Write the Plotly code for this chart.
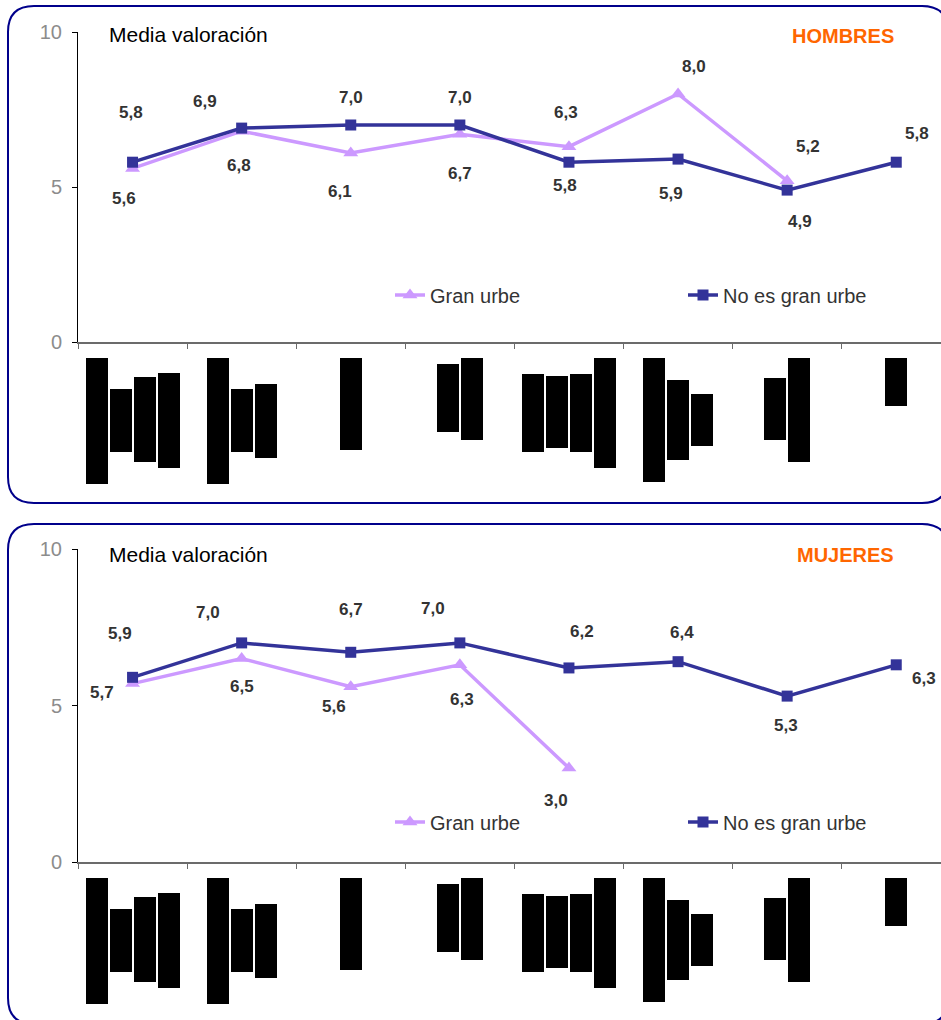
import plotly.graph_objects as go

# ---------------- data ----------------
categories = [0, 1, 2, 3, 4, 5, 6, 7]  # category labels are redacted in the source

hombres_gran_urbe = [5.6, 6.8, 6.1, 6.7, 6.3, 8.0, 5.2, None]
hombres_no_gran_urbe = [5.8, 6.9, 7.0, 7.0, 5.8, 5.9, 4.9, 5.8]
mujeres_gran_urbe = [5.7, 6.5, 5.6, 6.3, 3.0, None, None, None]
mujeres_no_gran_urbe = [5.9, 7.0, 6.7, 7.0, 6.2, 6.4, 5.3, 6.3]

series_names = ["Gran urbe", "No es gran urbe"]
y_ticks = [0, 5, 10]
panel_titles = ["HOMBRES", "MUJERES"]
axis_title = "Media valoración"

# redacted category labels (rotated text blocked out): start / end in px below axis
label_block_top = [[16, 47, 35, 31], [16, 47, 42], [16], [22, 16],
                   [32, 34, 32, 16], [16, 38, 52], [36, 16], [16]]
label_block_bottom = [[142, 110, 120, 126], [142, 110, 116], [108], [90, 98],
                      [110, 106, 110, 126], [140, 118, 104], [98, 120], [64]]

# label offsets (px) for value labels: (dx, dy) with dy positive = up
h_gu_shift = [(-9, -30), (-3, -34), (-11, -39), (0, -39), (-3, 34), (16, 28), (21, 34), None]
h_ngu_shift = [(-2, 50), (-37, 27), (0, 28), (0, 28), (-4, -23), (-7, -34), (13, -31), (21, 29)]
m_gu_shift = [(-31, -9), (0, -28), (-17, -20), (2, -35), (-13, -32), None, None, None]
m_ngu_shift = [(-13, 44), (-34, 30), (0, 43), (-27, 34), (13, 36), (4, 29), (-1, -29), (28, -14)]

# ---------------- styles ----------------
W, H = 941, 1020
PURPLE = "#CC99FF"
BLUE = "#333399"
ORANGE = "#FF6600"
NAVY = "#00008B"
FONT = "Liberation Sans, Arial, sans-serif"
LABEL_COLOR = "#333333"


def px_x(p):
    return p / W


def px_y(p):
    return 1 - p / H


X_DOMAIN = [px_x(78), 1.0]
X_RANGE = [-0.5, -0.5 + (W - 78) / 109.1]
CAT_PX = 109.1

fig = go.Figure()

panels = [
    dict(gu=hombres_gran_urbe, ngu=hombres_no_gran_urbe, gu_s=h_gu_shift, ngu_s=h_ngu_shift,
         xa="x", ya="y", blk_ya="y3", legend="legend", axis_px=342, top_px=32, blk_bottom_px=502,
         border=(8, 6, 948, 503), title_y=35, legend_y=295, name=panel_titles[0]),
    dict(gu=mujeres_gran_urbe, ngu=mujeres_no_gran_urbe, gu_s=m_gu_shift, ngu_s=m_ngu_shift,
         xa="x2", ya="y2", blk_ya="y4", legend="legend2", axis_px=862, top_px=549, blk_bottom_px=1020,
         border=(8, 524, 948, 1024), title_y=554, legend_y=822, name=panel_titles[1]),
]

annotations = []
shapes = []
layout_axes = {}

for k, p in enumerate(panels):
    xa, ya = p["xa"], p["ya"]
    fig.add_trace(go.Scatter(
        x=categories, y=p["gu"], name=series_names[0], mode="lines+markers",
        line=dict(color=PURPLE, width=3.5), connectgaps=False,
        marker=dict(symbol="triangle-up", size=13, color=PURPLE),
        xaxis=xa, yaxis=ya, legend=p["legend"], cliponaxis=False,
    ))
    fig.add_trace(go.Scatter(
        x=categories, y=p["ngu"], name=series_names[1], mode="lines+markers",
        line=dict(color=BLUE, width=3.5),
        marker=dict(symbol="square", size=11, color=BLUE),
        xaxis=xa, yaxis=ya, legend=p["legend"], cliponaxis=False,
    ))

    # value labels
    for vals, shifts in ((p["gu"], p["gu_s"]), (p["ngu"], p["ngu_s"])):
        for c, v, s in zip(categories, vals, shifts):
            if v is None:
                continue
            annotations.append(dict(
                x=c, y=v, xref=xa, yref=ya, text=f"{v:.1f}".replace(".", ","),
                showarrow=False, xshift=s[0], yshift=s[1],
                font=dict(family=FONT, size=17, color=LABEL_COLOR, weight="bold"),
            ))

    # redacted category-label blocks
    bx, bbase, blen = [], [], []
    for c, tops, bots in zip(categories, label_block_top, label_block_bottom):
        n = len(tops)
        for j, (t, b) in enumerate(zip(tops, bots)):
            bx.append(c + (j - (n - 1) / 2) * 24 / CAT_PX)
            bbase.append(t)
            blen.append(b - t)
    fig.add_trace(go.Bar(
        x=bx, y=blen, base=bbase, width=22 / CAT_PX, marker=dict(color="black", line=dict(width=0)),
        xaxis=xa, yaxis=p["blk_ya"], showlegend=False, hoverinfo="skip",
    ))

    # axes
    xkey = "xaxis" if xa == "x" else "xaxis2"
    ykey = "yaxis" if ya == "y" else "yaxis2"
    bkey = "yaxis3" if p["blk_ya"] == "y3" else "yaxis4"
    layout_axes[xkey] = dict(
        domain=X_DOMAIN, range=X_RANGE, anchor=ya, showgrid=False, zeroline=False,
        showline=True, linecolor="#6b6b6b", linewidth=1.5,
        tickmode="array", tickvals=[c - 0.5 for c in categories], showticklabels=False,
        ticks="outside", ticklen=5, tickcolor="#6b6b6b", tickwidth=1,
    )
    layout_axes[ykey] = dict(
        domain=[px_y(p["axis_px"]), px_y(p["top_px"])], range=[0, 10], anchor=xa,
        showgrid=False, zeroline=False, showline=True, linecolor="black", linewidth=1,
        tickmode="array", tickvals=y_ticks, ticks="outside", ticklen=5, tickcolor="black",
        tickfont=dict(family=FONT, size=20, color="#8c8c8c"), ticklabelstandoff=6,
    )
    layout_axes[bkey] = dict(
        domain=[px_y(p["blk_bottom_px"]), px_y(p["axis_px"])],
        range=[p["blk_bottom_px"] - p["axis_px"], 0], anchor=xa,
        visible=False, showgrid=False, zeroline=False, fixedrange=True,
    )

    # titles
    annotations.append(dict(
        x=px_x(107), y=px_y(p["title_y"]), xref="paper", yref="paper", xanchor="left",
        yanchor="middle", text=axis_title, showarrow=False,
        font=dict(family=FONT, size=21, color="black"),
    ))
    annotations.append(dict(
        x=px_x(896), y=px_y(p["title_y"] + 1), xref="paper", yref="paper", xanchor="right",
        yanchor="middle", text=p["name"], showarrow=False,
        font=dict(family=FONT, size=20, color=ORANGE, weight="bold"),
    ))

    # rounded panel border
    x0, y0, x1, y1 = p["border"]
    r = 26
    path = (f"M {px_x(x0)},{px_y(y0 + r)} "
            f"Q {px_x(x0)},{px_y(y0)} {px_x(x0 + r)},{px_y(y0)} "
            f"L {px_x(x1 - r)},{px_y(y0)} "
            f"Q {px_x(x1)},{px_y(y0)} {px_x(x1)},{px_y(y0 + r)} "
            f"L {px_x(x1)},{px_y(y1 - r)} "
            f"Q {px_x(x1)},{px_y(y1)} {px_x(x1 - r)},{px_y(y1)} "
            f"L {px_x(x0 + r)},{px_y(y1)} "
            f"Q {px_x(x0)},{px_y(y1)} {px_x(x0)},{px_y(y1 - r)} Z")
    shapes.append(dict(type="path", path=path, xref="paper", yref="paper",
                       line=dict(color=NAVY, width=2), fillcolor="rgba(0,0,0,0)", layer="below"))

legend_common = dict(
    orientation="h", xanchor="left", yanchor="middle", x=px_x(390),
    bgcolor="rgba(0,0,0,0)", borderwidth=0, entrywidth=248, entrywidthmode="pixels",
    font=dict(family=FONT, size=20, color=LABEL_COLOR), itemclick=False, itemdoubleclick=False,
)

fig.update_layout(
    width=W, height=H, margin=dict(l=0, r=0, t=0, b=0, pad=0, autoexpand=False),
    paper_bgcolor="white", plot_bgcolor="rgba(0,0,0,0)",
    showlegend=True, barmode="overlay", bargap=0,
    legend=dict(legend_common, y=px_y(panels[0]["legend_y"])),
    legend2=dict(legend_common, y=px_y(panels[1]["legend_y"])),
    annotations=annotations, shapes=shapes, hovermode=False,
    **layout_axes,
)

fig.write_html(
    "out.html",
    config={"displayModeBar": False},
    post_script="document.body.style.margin='0';document.body.style.overflow='hidden';",
)
